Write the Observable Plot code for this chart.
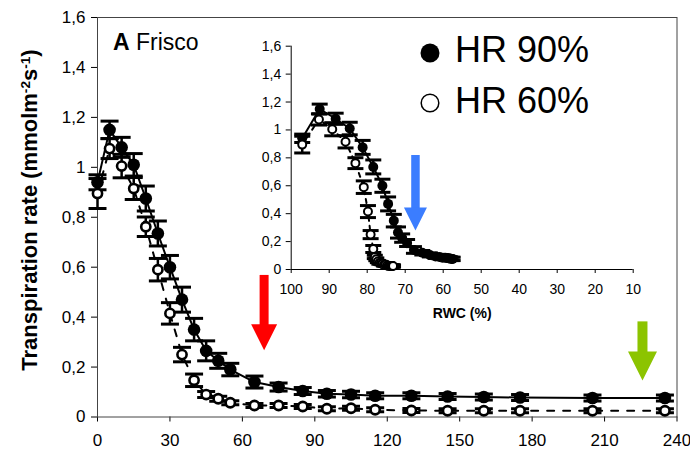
<!DOCTYPE html>
<html>
<head>
<meta charset="utf-8">
<script src="https://cdn.jsdelivr.net/npm/d3@7"></script>
<script src="https://cdn.jsdelivr.net/npm/@observablehq/plot@0.6"></script>
<style>
  body { margin: 0; background: white; }
  #wrap { position: relative; width: 690px; height: 460px; font-family: "Liberation Sans", Arial, sans-serif; color: black; overflow: hidden; }
  #wrap > svg, #wrap > .layer { position: absolute; }
  .txt { position: absolute; white-space: nowrap; line-height: 1; }
</style>
</head>
<body>
<div id="wrap"></div>
<script>
// ---------- data ----------
const times = [0, 5, 10, 15, 20, 25, 30, 35, 40, 45, 50, 55, 65, 75, 85, 95, 105, 115, 130, 145, 160, 175, 205, 235];
const hr90 = [0.94, 1.15, 1.08, 1.01, 0.875, 0.735, 0.60, 0.47, 0.35, 0.265, 0.225, 0.19, 0.14, 0.12, 0.104, 0.093, 0.09, 0.085, 0.085, 0.082, 0.08, 0.078, 0.076, 0.076];
const hr90Err = [0.03, 0.035, 0.04, 0.045, 0.05, 0.05, 0.047, 0.05, 0.045, 0.04, 0.03, 0.025, 0.024, 0.016, 0.014, 0.013, 0.013, 0.012, 0.012, 0.012, 0.012, 0.012, 0.012, 0.012];
const hr60 = [0.895, 1.075, 1.005, 0.915, 0.762, 0.59, 0.415, 0.25, 0.147, 0.09, 0.073, 0.057, 0.046, 0.046, 0.042, 0.033, 0.035, 0.029, 0.026, 0.025, 0.025, 0.025, 0.025, 0.025];
const hr60Err = [0.06, 0.04, 0.047, 0.044, 0.039, 0.045, 0.043, 0.029, 0.025, 0.012, 0.01, 0.008, 0.008, 0.008, 0.008, 0.008, 0.008, 0.008, 0.008, 0.008, 0.008, 0.008, 0.008, 0.008];
const rwc90 = [97.1, 92.5, 88.3, 84.6, 81.2, 78.4, 76.0, 74.5, 73.0, 71.9, 70.8, 69.5, 67.7, 65.5, 63.5, 62.0, 61.0, 60.2, 59.5, 59.0, 58.6, 58.2, 57.8, 57.5];
const rwc60 = [97.1, 92.7, 89.2, 85.7, 83.1, 80.9, 79.8, 79.1, 78.4, 78.0, 77.6, 77.2, 76.8, 76.4, 76.0, 75.6, 75.2, 74.8, 74.4, 74.1, 73.8, 73.6, 73.4, 73.2];
const xTicks = [0, 30, 60, 90, 120, 150, 180, 210, 240];
const yTicks = [0, 0.2, 0.4, 0.6, 0.8, 1, 1.2, 1.4, 1.6];
const rwcTicks = [100, 90, 80, 70, 60, 50, 40, 30, 20, 10];
const seriesNames = ["HR 90%", "HR 60%"];
// arrows (data coordinates: x, top of shaft, tip)
const redArrow = [{x: 69, top: 0.567, tip: 0.267}];
const greenArrow = [{x: 225.7, top: 0.381, tip: 0.146}];
const blueArrow = [{x: 67.3, top: 0.817, tip: 0.279}];

// ---------- helpers ----------
const fmt = d => d3.format("~g")(d).replace(".", ",");
const capSymbol = {draw(ctx, size) { const w = Math.sqrt(size / Math.PI); ctx.moveTo(-w, 0); ctx.lineTo(w, 0); }};
const headSymbol = {draw(ctx, size) { const w = Math.sqrt(size / Math.PI); ctx.moveTo(0, 0); ctx.lineTo(-w, -2 * w); ctx.lineTo(w, -2 * w); ctx.closePath(); }};
const build = (xs, vs, es) => xs.map((x, i) => ({x, v: vs[i], lo: vs[i] - es[i], hi: vs[i] + es[i]}));

const main90 = build(times, hr90, hr90Err);
const main60 = build(times, hr60, hr60Err);
const ins90 = build(rwc90, hr90, hr90Err);
const ins60 = build(rwc60, hr60, hr60Err);

function seriesMarks(data, filled, o) {
  const marks = [];
  marks.push(Plot.line(data, {x: "x", y: "v", stroke: "black", strokeWidth: o.lw, strokeDasharray: filled ? null : o.dash}));
  marks.push(Plot.ruleX(data, {x: "x", y1: "lo", y2: "hi", stroke: "black", strokeWidth: o.ew}));
  marks.push(Plot.dot(data, {x: "x", y: "lo", symbol: capSymbol, r: o.cap, fill: "none", stroke: "black", strokeWidth: o.cw}));
  marks.push(Plot.dot(data, {x: "x", y: "hi", symbol: capSymbol, r: o.cap, fill: "none", stroke: "black", strokeWidth: o.cw}));
  if (filled) marks.push(Plot.dot(data, {x: "x", y: "v", r: o.rf, fill: "black", stroke: "none"}));
  else marks.push(Plot.dot(data, {x: "x", y: "v", r: o.ro, fill: "white", stroke: "black", strokeWidth: o.ow}));
  return marks;
}
function arrowMarks(data, color, shaft, head) {
  return [
    Plot.ruleX(data, {x: "x", y1: "top", y2: "tip", stroke: color, strokeWidth: shaft, insetBottom: head * 1.2}),
    Plot.dot(data, {x: "x", y: "tip", symbol: headSymbol, r: head, fill: color, stroke: "none"})
  ];
}

const wrap = document.getElementById("wrap");

// ---------- main chart ----------
const mainOpts = {lw: 2, ew: 2.5, cw: 3, cap: 9, rf: 6.3, ro: 4.6, ow: 2.6, dash: "7,9"};
const mainPlot = Plot.plot({
  width: 690, height: 460,
  marginLeft: 97, marginRight: 13.5, marginTop: 17, marginBottom: 43.5,
  style: {fontFamily: "Liberation Sans, Arial, sans-serif", fontSize: "17px", color: "black", background: "transparent", overflow: "visible"},
  x: {domain: [0, 240], ticks: xTicks, tickSize: 5, tickPadding: 12, label: null, tickFormat: d => String(d)},
  y: {domain: [0, 1.6], ticks: yTicks, tickSize: 6, tickPadding: 6, label: null, tickFormat: fmt},
  marks: [
    Plot.frame({stroke: "#444", strokeWidth: 1}),
    ...seriesMarks(main90, true, mainOpts),
    ...seriesMarks(main60, false, mainOpts),
    ...arrowMarks(redArrow, "#ff0000", 9, 13),
    ...arrowMarks(greenArrow, "#8cc400", 10, 14.5)
  ]
});
mainPlot.style.left = "0px"; mainPlot.style.top = "0px";
wrap.appendChild(mainPlot);

// ---------- inset chart ----------
const insOpts = {lw: 2, ew: 2.5, cap: 8, cw: 3, rf: 5, ro: 4, ow: 2, dash: "4,5"};
const insLeft = 220, insTop = 25;
const insetPlot = Plot.plot({
  width: 440, height: 305,
  marginLeft: 70.7, marginRight: 27.3, marginTop: 20.7, marginBottom: 61,
  style: {fontFamily: "Liberation Sans, Arial, sans-serif", fontSize: "14px", color: "black", background: "transparent", overflow: "visible"},
  x: {domain: [100, 10], ticks: rwcTicks, tickSize: 4, tickPadding: 11, label: null, tickFormat: d => String(d)},
  y: {domain: [0, 1.6], ticks: yTicks, tickSize: 5, tickPadding: 5, label: null, tickFormat: fmt},
  marks: [
    Plot.ruleX([100], {stroke: "black", strokeWidth: 1}),
    Plot.ruleY([0], {stroke: "black", strokeWidth: 1}),
    Plot.text(["RWC (%)"], {frameAnchor: "bottom", dy: 44, fontWeight: "bold", fontSize: 14, lineAnchor: "middle", fill: "black"}),
    ...seriesMarks(ins90, true, insOpts),
    ...seriesMarks(ins60, false, insOpts),
    ...arrowMarks(blueArrow, "#3b7dff", 8.5, 11.5)
  ]
});
insetPlot.style.left = insLeft + "px"; insetPlot.style.top = insTop + "px";
wrap.appendChild(insetPlot);

// ---------- text overlays ----------
function addText(html, css) {
  const d = document.createElement("div");
  d.className = "txt";
  d.innerHTML = html;
  Object.assign(d.style, css);
  wrap.appendChild(d);
  return d;
}
// panel label
addText('<b>A</b> Frisco', {left: "113px", top: "31px", fontSize: "23px"});
// y axis title
addText('Transpiration rate (mmolm<sup style="font-size:0.62em;vertical-align:0.55em">-2</sup>s<sup style="font-size:0.62em;vertical-align:0.55em">-1</sup>)',
  {left: "30px", top: "210px", fontSize: "22px", fontWeight: "bold", transform: "translate(-50%,-50%) rotate(-90deg)"});
// legend
const legSvg = document.createElementNS("http://www.w3.org/2000/svg", "svg");
legSvg.setAttribute("width", 690); legSvg.setAttribute("height", 460);
legSvg.style.left = "0px"; legSvg.style.top = "0px";
legSvg.innerHTML = '<circle cx="430" cy="53" r="9.5" fill="black"/><circle cx="430" cy="103" r="8.8" fill="white" stroke="black" stroke-width="1.5"/>';
wrap.appendChild(legSvg);
addText(seriesNames[0], {left: "455px", top: "32px", fontSize: "36px"});
addText(seriesNames[1], {left: "455px", top: "83px", fontSize: "36px"});
</script>
</body>
</html>
